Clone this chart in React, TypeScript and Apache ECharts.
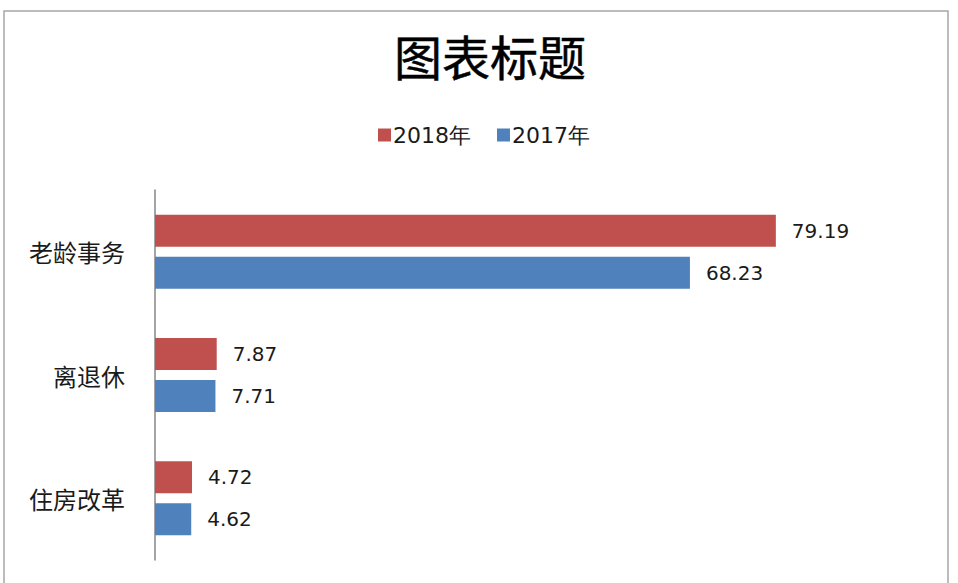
import React, { useEffect, useRef } from "react";
import * as echarts from "echarts";

const categories = ["老龄事务", "离退休", "住房改革"];
const values2018 = [79.19, 7.87, 4.72];
const values2017 = [68.23, 7.71, 4.62];
const seriesNames = ["2018年", "2017年"];

export default function App() {
  const ref = useRef<HTMLDivElement>(null);
  useEffect(() => {
    if (!ref.current) return;
    const chart = echarts.init(ref.current, null, { renderer: "svg" });
    const labelStyle = {
      show: true,
      position: "right",
      distance: 16,
      color: "#1a1a1a",
      fontSize: 20,
      fontFamily: "DejaVu Sans",
      formatter: (p: any) => p.value.toFixed(2),
    };
    chart.setOption({
      animation: false,
      backgroundColor: "#ffffff",
      graphic: [
        {
          type: "rect",
          shape: { x: 4, y: 11, width: 944, height: 620 },
          style: { fill: "none", stroke: "#a6a6a6", lineWidth: 1.5 },
          silent: true,
        },
      ],
      title: {
        text: "图表标题",
        left: 490,
        top: 31,
        padding: 0,
        textAlign: "center",
        textStyle: {
          fontSize: 48,
          fontWeight: "normal",
          color: "#000000",
          fontFamily: "Noto Sans CJK SC",
          textBorderColor: "#000000",
          textBorderWidth: 0.5,
        },
      },
      legend: {
        data: seriesNames,
        top: 124,
        left: 378,
        padding: 0,
        itemWidth: 13,
        itemHeight: 13,
        itemGap: 26,
        icon: "rect",
        textStyle: {
          fontSize: 22,
          color: "#1a1a1a",
          fontFamily: "DejaVu Sans",
          padding: [0, 0, 0, -3],
        },
      },
      grid: { left: 155, right: 19, top: 190, bottom: 23, containLabel: false },
      xAxis: { type: "value", min: 0, max: 100, show: false },
      yAxis: {
        type: "category",
        data: categories,
        inverse: true,
        axisLine: { show: true, lineStyle: { color: "#868686", width: 1.5 } },
        axisTick: { show: false },
        axisLabel: {
          margin: 30,
          fontSize: 24,
          color: "#1a1a1a",
          fontFamily: "Noto Sans CJK SC",
        },
      },
      series: [
        {
          name: seriesNames[0],
          type: "bar",
          data: values2018,
          barWidth: 32,
          barGap: "31%",
          itemStyle: { color: "#C0504D" },
          label: labelStyle,
        },
        {
          name: seriesNames[1],
          type: "bar",
          data: values2017,
          barWidth: 32,
          barGap: "31%",
          itemStyle: { color: "#4F81BD" },
          label: labelStyle,
        },
      ],
    });
    return () => chart.dispose();
  }, []);
  return <div ref={ref} style={{ width: 958, height: 583, position: "absolute", left: 0, top: 0 }} />;
}
